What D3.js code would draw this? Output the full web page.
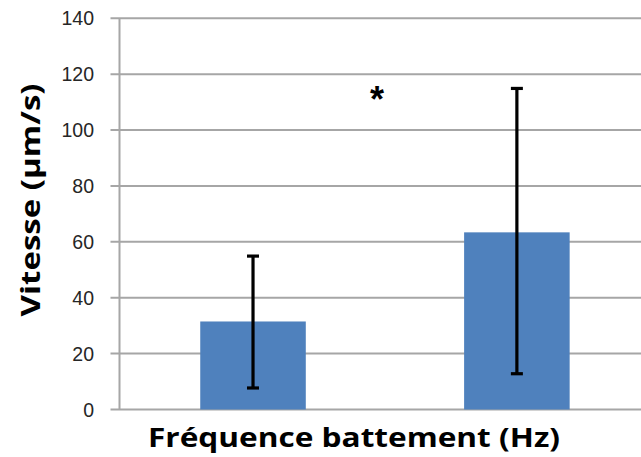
<!DOCTYPE html>
<html><head><meta charset="utf-8">
<script src="https://cdn.jsdelivr.net/npm/d3@7"></script>
<style>body{margin:0;background:#fff}svg{display:block}</style>
</head><body>
<script>
const categories = ["A", "B"];
const values = [31.5, 63.4];
const errLow = [7.7, 12.8];
const errHigh = [54.9, 114.9];
const yTicks = [0, 20, 40, 60, 80, 100, 120, 140];
const starLabel = "*";
const starValue = 113.5;
const xTitle = "Fréquence battement (Hz)";
const yTitle = "Vitesse (µm/s)";

(function () {
const W = 641, H = 457;
const svg = d3.select("body").append("svg").attr("width", W).attr("height", H);
const mLeft = 119.5, mRight = 650.4, mTop = 18.3, mBottom = 409.5;
const y = d3.scaleLinear().domain([0, 140]).range([mBottom, mTop]);
const x = d3.scaleBand().domain(categories).range([mLeft, mRight]).paddingInner(0.6).paddingOuter(0.306);

// gridlines
svg.append("g").selectAll("line").data(yTicks).join("line")
  .attr("x1", mLeft - 9).attr("x2", W)
  .attr("y1", d => y(d)).attr("y2", d => y(d))
  .attr("stroke", "#a6a6a6").attr("stroke-width", 2);
// axis line
svg.append("line").attr("x1", mLeft).attr("x2", mLeft).attr("y1", mTop).attr("y2", mBottom)
  .attr("stroke", "#a6a6a6").attr("stroke-width", 2);

// tick labels
svg.append("g").selectAll("text").data(yTicks).join("text")
  .attr("x", 94).attr("y", d => y(d)).attr("dy", "0.36em")
  .attr("text-anchor", "end").attr("font-family", "Liberation Sans, Arial, sans-serif")
  .attr("font-size", 19.5).attr("fill", "#262626").text(d => d);

// bars
svg.append("g").selectAll("rect").data(values).join("rect")
  .attr("x", (d, i) => x(categories[i])).attr("width", x.bandwidth())
  .attr("y", d => y(d)).attr("height", d => mBottom - y(d))
  .attr("fill", "#4f81bd");

// error bars
const eg = svg.append("g").attr("stroke", "#000").attr("stroke-width", 3.2);
categories.forEach((c, i) => {
  const cx = x(c) + x.bandwidth() / 2;
  eg.append("line").attr("x1", cx).attr("x2", cx).attr("y1", y(errLow[i])).attr("y2", y(errHigh[i]));
  eg.append("line").attr("x1", cx - 6).attr("x2", cx + 6).attr("y1", y(errLow[i])).attr("y2", y(errLow[i]));
  eg.append("line").attr("x1", cx - 6).attr("x2", cx + 6).attr("y1", y(errHigh[i])).attr("y2", y(errHigh[i]));
});

// asterisk
svg.append("text").attr("x", (x(categories[0]) + x(categories[1]) + x.bandwidth()) / 2 - 8)
  .attr("y", y(starValue)).attr("dy", "0.54em")
  .attr("text-anchor", "middle").attr("font-family", "Liberation Sans, Arial, sans-serif")
  .attr("font-weight", "bold").attr("font-size", 36).attr("fill", "#000").text(starLabel);

// x title
svg.append("text").attr("x", 354).attr("y", 447)
  .attr("text-anchor", "middle").attr("font-family", "Open Sans, Liberation Sans, sans-serif")
  .attr("font-weight", "bold").attr("font-size", 27).attr("fill", "#000")
  .attr("textLength", 412).attr("lengthAdjust", "spacingAndGlyphs").text(xTitle);

// y title
svg.append("text").attr("transform", "translate(40,200) rotate(-90)")
  .attr("text-anchor", "middle").attr("font-family", "Open Sans, Liberation Sans, sans-serif")
  .attr("font-weight", "bold").attr("font-size", 27).attr("fill", "#000")
  .attr("textLength", 233).attr("lengthAdjust", "spacingAndGlyphs").text(yTitle);
})();
</script>
</body></html>
